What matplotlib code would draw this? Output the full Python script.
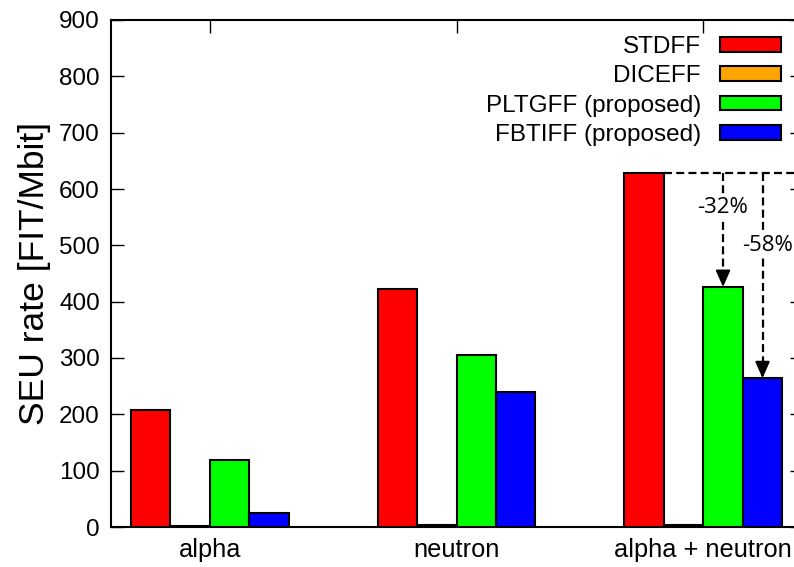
import matplotlib
matplotlib.use("Agg")
import matplotlib.pyplot as plt
import numpy as np

categories = ["alpha", "neutron", "alpha + neutron"]
series_names = ["STDFF", "DICEFF", "PLTGFF (proposed)", "FBTIFF (proposed)"]
stdff = [207, 422, 629]
diceff = [1, 3, 4]
pltgff = [119, 306, 426]
fbtiff = [25, 239, 264]
series_values = [stdff, diceff, pltgff, fbtiff]
colors = ["#ff0000", "#ffa500", "#00ff00", "#0000ff"]
y_ticks = list(range(0, 1000, 100))

plt.rcParams["font.family"] = ["Liberation Sans", "DejaVu Sans"]

fig = plt.figure(figsize=(7.94, 5.67), dpi=100)
ax = fig.add_axes([111 / 794, 40 / 567, 691 / 794, 507 / 567])

x = np.arange(len(categories))
width = 0.16
offsets = [-1.5 * width, -0.5 * width, 0.5 * width, 1.5 * width]
for name, vals, col, off in zip(series_names, series_values, colors, offsets):
    ax.bar(x + off, vals, width, color=col, edgecolor="black", linewidth=1.5,
           label=name, zorder=3)

ax.set_xlim(-0.4, 2.4)
ax.set_ylim(0, 900)
ax.set_yticks(y_ticks)
ax.set_xticks(x)
ax.set_xticklabels(categories)
ax.tick_params(axis="both", direction="in", length=9, width=1, labelsize=17.5,
               top=True, right=True, pad=8)
ax.tick_params(axis="x", pad=8, labelsize=18.3)
for sp in ax.spines.values():
    sp.set_linewidth(1.5)
ax.set_ylabel("SEU rate [FIT/Mbit]", fontsize=25.5, labelpad=6)

# reduction arrows for the combined case
dash = (0, (3.6, 1.9))
base = stdff[2]
ax.plot([2 - width, 2.4], [base, base], color="black", lw=1.6,
        linestyle=dash, zorder=4, clip_on=False)
for off, target, label, ly, lx in [
    (offsets[2], pltgff[2], "-32%", 567, 2.08),
    (offsets[3], fbtiff[2], "-58%", 500, 2.26),
]:
    xx = 2 + off
    ax.plot([xx, xx], [base, target + 20], color="black", lw=1.6,
            linestyle=dash, zorder=4)
    ax.annotate("", xy=(xx, target), xytext=(xx, target + 22),
                arrowprops=dict(arrowstyle="-|>,head_length=0.5,head_width=0.22",
                                color="black", lw=1.5, shrinkA=0, shrinkB=0,
                                mutation_scale=20), zorder=5)
    ax.text(lx, ly, label, ha="center", va="center", fontsize=16,
            family=["Open Sans", "DejaVu Sans"], zorder=6,
            bbox=dict(facecolor="white", edgecolor="none", pad=1))

leg = ax.legend(loc="upper right", bbox_to_anchor=(781 / 794, 531 / 567),
                bbox_transform=fig.transFigure, frameon=False, fontsize=17.5,
                markerfirst=False, handlelength=2.5, handleheight=0.55,
                labelspacing=0.3, borderpad=0, borderaxespad=0, handletextpad=0.8)
for t in leg.get_texts():
    t.set_ha("right")

fig.savefig("out.png", dpi=100)
